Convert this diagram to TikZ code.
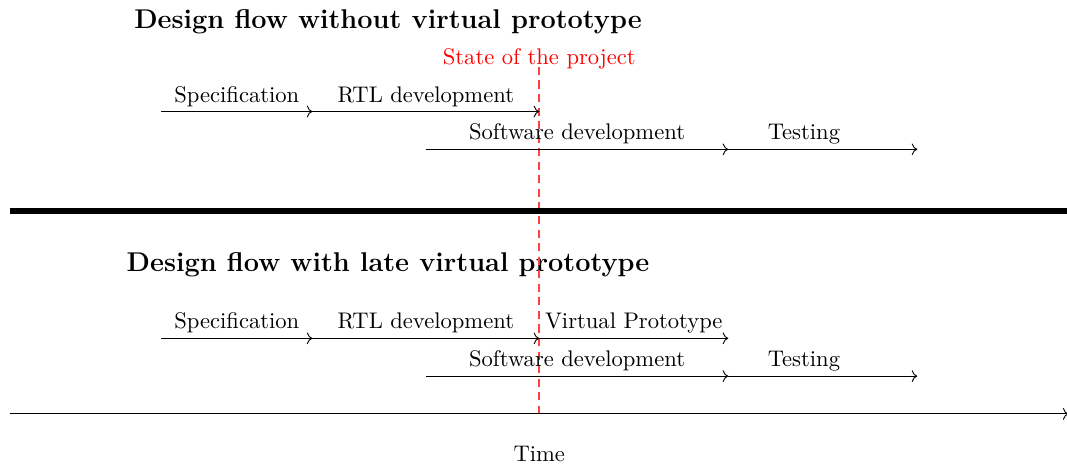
\documentclass[tikz,border=0pt]{standalone}
\usetikzlibrary{arrows.meta}
\begin{document}
\begin{tikzpicture}[x=0.588cm,y=0.588cm,
  flow/.style={->},
  lbl/.style={above, inner sep=2pt},
  title/.style={font=\large\bfseries},
  proj/.style={color=red!75, dash pattern=on 3.6pt off 2.4pt, line width=0.8pt}]
\useasboundingbox (-0.265,-1.32) rectangle (27.96,10.95);
% coordinates
\coordinate (a1) at (4,8); \coordinate (a2) at (8,8); \coordinate (a3) at (14,8);
\coordinate (b1) at (11,7); \coordinate (b2) at (19,7); \coordinate (b3) at (24,7);
\coordinate (c1) at (4,2); \coordinate (c2) at (8,2); \coordinate (c3) at (14,2); \coordinate (c4) at (19,2);
\coordinate (d1) at (11,1); \coordinate (d2) at (19,1); \coordinate (d3) at (24,1);
\coordinate (t0) at (0,0); \coordinate (t1) at (28,0);
\coordinate (s0) at (0,5.37); \coordinate (s1) at (28,5.37);
\coordinate (p0) at (14,0); \coordinate (p1) at (14,9.3);
% titles
\node[title] (t1title) at (10,10.38) {Design flow without virtual prototype};
\node[title] (t2title) at (10,3.95) {Design flow with late virtual prototype};
% project state
\draw[proj] (p0) -- (p1);
\node[red] (state) at (14,9.4) {State of the project};
% top flow
\draw[flow] (a1) -- node[lbl] (l1) {Specification} (a2);
\draw[flow] (a2) -- node[lbl] (l2) {RTL development} (a3);
\draw[flow] (b1) -- node[lbl] (l3) {Software development} (b2);
\draw[flow] (b2) -- node[lbl, pos=0.4] (l4) {Testing} (b3);
% separator
\draw[line width=3pt] (s0) -- (s1);
% bottom flow
\draw[flow] (c1) -- node[lbl] (m1) {Specification} (c2);
\draw[flow] (c2) -- node[lbl] (m2) {RTL development} (c3);
\draw[flow] (c3) -- node[lbl] (m3) {Virtual Prototype} (c4);
\draw[flow] (d1) -- node[lbl] (m4) {Software development} (d2);
\draw[flow] (d2) -- node[lbl, pos=0.4] (m5) {Testing} (d3);
% time axis
\draw[flow] (t0) -- (t1);
\node (time) at (14,-1.05) {Time};
\end{tikzpicture}
\end{document}
